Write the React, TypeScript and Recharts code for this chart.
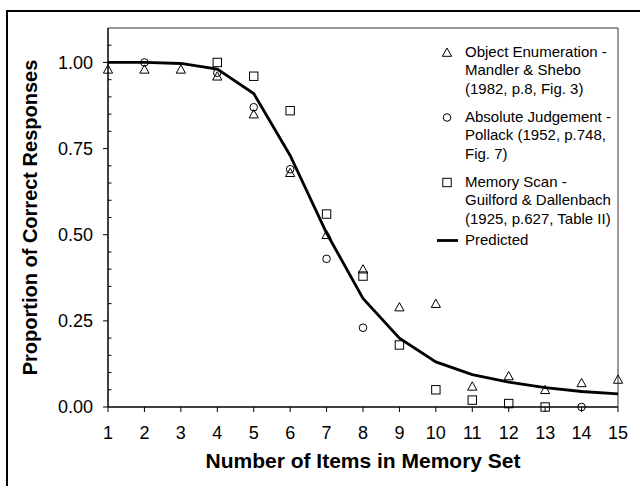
import React from 'react';
import { ComposedChart, Line, Scatter, XAxis, YAxis, ReferenceLine, Legend, Label } from 'recharts';

const items = [1, 2, 3, 4, 5, 6, 7, 8, 9, 10, 11, 12, 13, 14, 15];
const objectEnumeration = [0.98, 0.98, 0.98, 0.96, 0.85, 0.68, 0.5, 0.4, 0.29, 0.3, 0.06, 0.09, 0.05, 0.07, 0.08];
const absoluteJudgement = [null, 1.0, null, 0.97, 0.87, 0.69, 0.43, 0.23, null, null, null, null, null, 0.0, null];
const memoryScan = [null, null, null, 1.0, 0.96, 0.86, 0.56, 0.38, 0.18, 0.05, 0.02, 0.01, 0.0, null, null];
const predicted = [1.0, 1.0, 0.997, 0.981, 0.91, 0.73, 0.505, 0.315, 0.2, 0.131, 0.094, 0.072, 0.056, 0.045, 0.038];

const yTicks = [0, 0.05, 0.1, 0.15, 0.2, 0.25, 0.3, 0.35, 0.4, 0.45, 0.5, 0.55, 0.6, 0.65, 0.7, 0.75, 0.8, 0.85, 0.9, 0.95, 1.0, 1.05];
const yMajor = [0, 0.25, 0.5, 0.75, 1.0];

const legendEntries = [
  { shape: 'triangle', lines: ['Object Enumeration -', 'Mandler & Shebo', '(1982, p.8, Fig. 3)'] },
  { shape: 'circle', lines: ['Absolute Judgement -', 'Pollack (1952, p.748,', 'Fig. 7)'] },
  { shape: 'square', lines: ['Memory Scan -', 'Guilford & Dallenbach', '(1925, p.627, Table II)'] },
  { shape: 'line', lines: ['Predicted'] },
];
const legendGaps = [9.5, 9.5, 3, 0];

const FONT = '"Liberation Sans", Arial, sans-serif';

const toPoints = (vals: (number | null)[]) =>
  items.map((n, i) => ({ n, v: vals[i] })).filter((d) => d.v !== null);

const triangle = (cx: number, cy: number) => (
  <polygon
    points={`${cx},${cy - 4.5} ${cx - 4.6},${cy + 3.8} ${cx + 4.6},${cy + 3.8}`}
    fill="none"
    stroke="#000"
    strokeWidth={1}
  />
);
const circle = (cx: number, cy: number) => <circle cx={cx} cy={cy} r={3.8} fill="none" stroke="#000" strokeWidth={1} />;
const square = (cx: number, cy: number) => (
  <rect x={cx - 4.2} y={cy - 4.2} width={8.4} height={8.4} fill="none" stroke="#000" strokeWidth={1} />
);

const YTick = (props: any) => {
  const { x, y, payload } = props;
  const major = yMajor.some((m) => Math.abs(m - payload.value) < 1e-6);
  if (!major) return <line x1={x} x2={x + 3.5} y1={y} y2={y} stroke="#000" strokeWidth={1} />;
  return (
    <g>
      <line x1={x - 5} x2={x} y1={y} y2={y} stroke="#000" strokeWidth={1} />
      <text x={x - 15} y={y} dy="0.36em" textAnchor="end" fontSize={18} fontFamily={FONT} fill="#000">
        {payload.value.toFixed(2)}
      </text>
    </g>
  );
};

const XTick = (props: any) => {
  const { x, y, payload } = props;
  return (
    <g>
      <line x1={x} x2={x} y1={y} y2={y + 5} stroke="#000" strokeWidth={1} />
      <text x={x} y={y + 32} textAnchor="middle" fontSize={18} fontFamily={FONT} fill="#000">
        {payload.value}
      </text>
    </g>
  );
};

const renderLegend = () => (
  <div style={{ fontFamily: FONT, fontSize: 15, color: '#000', lineHeight: '18.5px' }}>
    {legendEntries.map((e, i) => (
      <div key={i} style={{ display: 'flex', marginBottom: legendGaps[i] }}>
        <svg width={31} height={18.5} style={{ flex: 'none' }}>
          {e.shape === 'triangle' && triangle(13, 9.5)}
          {e.shape === 'circle' && circle(13, 9.5)}
          {e.shape === 'square' && square(13, 9.5)}
          {e.shape === 'line' && <line x1={3} x2={24} y1={9.5} y2={9.5} stroke="#000" strokeWidth={2.8} />}
        </svg>
        <div style={{ whiteSpace: 'nowrap' }}>
          {e.lines.map((l, j) => (
            <div key={j}>{l}</div>
          ))}
        </div>
      </div>
    ))}
  </div>
);

export default function App() {
  return (
    <div style={{ position: 'absolute', left: 0, top: 0, width: 640, height: 486, background: '#fff' }}>
      <div
        style={{
          position: 'absolute',
          left: 6,
          top: 10,
          width: 640,
          height: 480,
          borderTop: '2px solid #000',
          borderLeft: '2px solid #000',
        }}
      />
      <ComposedChart
        width={640}
        height={486}
        margin={{ top: 28, right: 22, bottom: 0, left: 0 }}
        style={{ position: 'absolute', left: 0, top: 0 }}
      >
        <XAxis
          type="number"
          dataKey="n"
          domain={[1, 15]}
          ticks={items}
          interval={0}
          height={79}
          tickSize={0}
          tickMargin={0}
          tick={<XTick />}
          axisLine={{ stroke: '#000', strokeWidth: 1.5 }}
          tickLine={false}
        >
          <Label
            content={(p: any) => {
              const vb = p.viewBox;
              return (
                <text
                  x={vb.x + vb.width / 2}
                  y={vb.y + 61}
                  textAnchor="middle"
                  fontSize={21}
                  fontWeight="bold"
                  fontFamily={FONT}
                  fill="#000"
                >
                  Number of Items in Memory Set
                </text>
              );
            }}
          />
        </XAxis>
        <YAxis
          type="number"
          dataKey="v"
          domain={[0, 1.1]}
          ticks={yTicks}
          interval={0}
          width={108}
          tickSize={0}
          tickMargin={0}
          tick={<YTick />}
          axisLine={{ stroke: '#000', strokeWidth: 1.5 }}
          tickLine={false}
        >
          <Label
            content={(p: any) => {
              const vb = p.viewBox;
              const cx = vb.x + 37;
              const cy = vb.y + vb.height / 2;
              return (
                <text
                  x={cx}
                  y={cy}
                  transform={`rotate(-90 ${cx} ${cy})`}
                  textAnchor="middle"
                  fontSize={20}
                  fontWeight="bold"
                  fontFamily={FONT}
                  fill="#000"
                >
                  Proportion of Correct Responses
                </text>
              );
            }}
          />
        </YAxis>
        <ReferenceLine y={1.1} stroke="#333" strokeWidth={1} />
        <ReferenceLine x={15} stroke="#333" strokeWidth={1} />
        <Legend
          layout="vertical"
          align="center"
          verticalAlign="middle"
          content={renderLegend}
          wrapperStyle={{ left: 434, top: 42.5, width: 200, height: 'auto' }}
        />
        <Line
          data={toPoints(predicted)}
          dataKey="v"
          type="linear"
          stroke="#000"
          strokeWidth={2.8}
          dot={false}
          isAnimationActive={false}
          legendType="none"
        />
        <Scatter
          data={toPoints(objectEnumeration)}
          dataKey="v"
          shape={(p: any) => triangle(p.cx, p.cy)}
          isAnimationActive={false}
        />
        <Scatter
          data={toPoints(absoluteJudgement)}
          dataKey="v"
          shape={(p: any) => circle(p.cx, p.cy)}
          isAnimationActive={false}
        />
        <Scatter
          data={toPoints(memoryScan)}
          dataKey="v"
          shape={(p: any) => square(p.cx, p.cy)}
          isAnimationActive={false}
        />
      </ComposedChart>
    </div>
  );
}
